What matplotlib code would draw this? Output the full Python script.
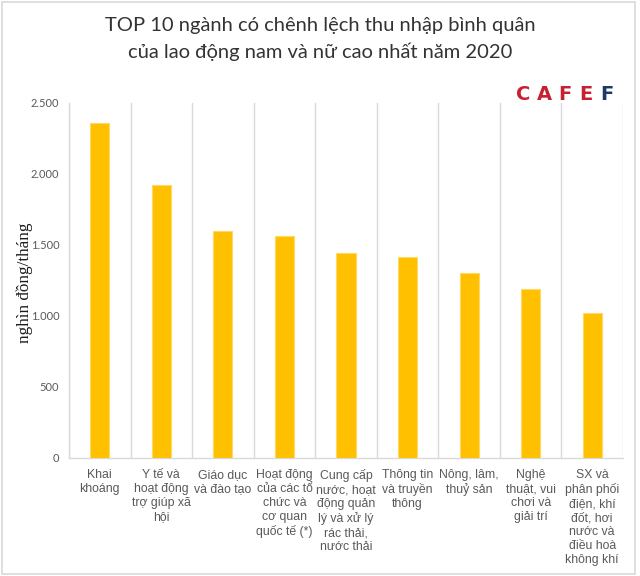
import matplotlib
matplotlib.use("Agg")
import matplotlib.pyplot as plt
from matplotlib.patches import Rectangle
from matplotlib.ticker import FuncFormatter, MultipleLocator

categories = [
    "Khai\nkhoáng",
    "Y tế và\nhoạt động\ntrợ giúp xã\nhội",
    "Giáo dục\nvà đào tạo",
    "Hoạt động\ncủa các tổ\nchức và\ncơ quan\nquốc tế (*)",
    "Cung cấp\nnước, hoạt\nđộng quản\nlý và xử lý\nrác thải,\nnước thải",
    "Thông tin\nvà truyền\nthông",
    "Nông, lâm,\nthuỷ sản",
    "Nghệ\nthuật, vui\nchơi và\ngiải trí",
    "SX và\nphân phối\nđiện, khí\nđốt, hơi\nnước và\nđiều hoà\nkhông khí",
]
values = [2358, 1921, 1597, 1562, 1443, 1415, 1305, 1190, 1021]
yticks = [0, 500, 1000, 1500, 2000, 2500]
title = "TOP 10 ngành có chênh lệch thu nhập bình quân\ncủa lao động nam và nữ cao nhất năm 2020"
ylabel = "nghìn đồng/tháng"
logo_letters = ["C", "A", "F", "E", "F"]
logo_colors = ["#C8202F", "#C8202F", "#C8202F", "#C8202F", "#1F3864"]

fig = plt.figure(figsize=(6.4, 5.76), dpi=100)
fig.patch.set_facecolor("white")
fig.add_artist(Rectangle((0.003, 0.003), 0.989, 0.994, transform=fig.transFigure,
                         fill=False, edgecolor="#D9D9D9", linewidth=1.2))

ax = fig.add_axes([69/640, 1-458/576, (623-69)/640, (458-103)/576])
x = list(range(len(categories)))
ax.bar(x, values, width=0.31, color="#FFC000", edgecolor="#FFD966", linewidth=0.8, zorder=3)
ax.set_xlim(-0.5, len(categories) - 0.5)
ax.set_ylim(0, 2500)
ax.set_yticks(yticks)
ax.yaxis.set_major_formatter(FuncFormatter(lambda v, p: f"{int(v):,}".replace(",", ".")))
ax.set_xticks(x)
ax.set_xticklabels(categories, fontsize=8.8, color="#595959", family="Liberation Sans",
                   linespacing=1.22, va="top")
ax.xaxis.set_minor_locator(MultipleLocator(1, offset=0.5))
ax.grid(True, which="minor", axis="x", color="#D9D9D9", linewidth=1.0, zorder=0)
ax.tick_params(axis="x", which="both", length=0, pad=8)
ax.tick_params(axis="y", length=0, labelsize=8, labelcolor="#595959", pad=7)
for lbl in ax.get_yticklabels():
    lbl.set_family("Lato")
for s in ["top", "right"]:
    ax.spines[s].set_visible(False)
ax.spines["left"].set_color("#D9D9D9")
ax.spines["bottom"].set_color("#D9D9D9")
ax.spines["left"].set_linewidth(1.0)
ax.spines["bottom"].set_linewidth(1.0)

fig.text(25/640, 1-283/576, ylabel, rotation=90, ha="center", va="center",
         family="Liberation Serif", fontsize=12.3, color="#1A1A1A")

fig.text(0.5, 1-39/576, title, ha="center", va="center", fontsize=14.5, family="Lato",
         color="#333333", linespacing=1.5)

for i, (ch, col) in enumerate(zip(logo_letters, logo_colors)):
    fig.text((523 + i*21)/640, 1-94/576, ch, ha="center", va="center", fontsize=14,
             fontweight="heavy", family="DejaVu Sans", color=col)

fig.savefig("out.png", dpi=100)
